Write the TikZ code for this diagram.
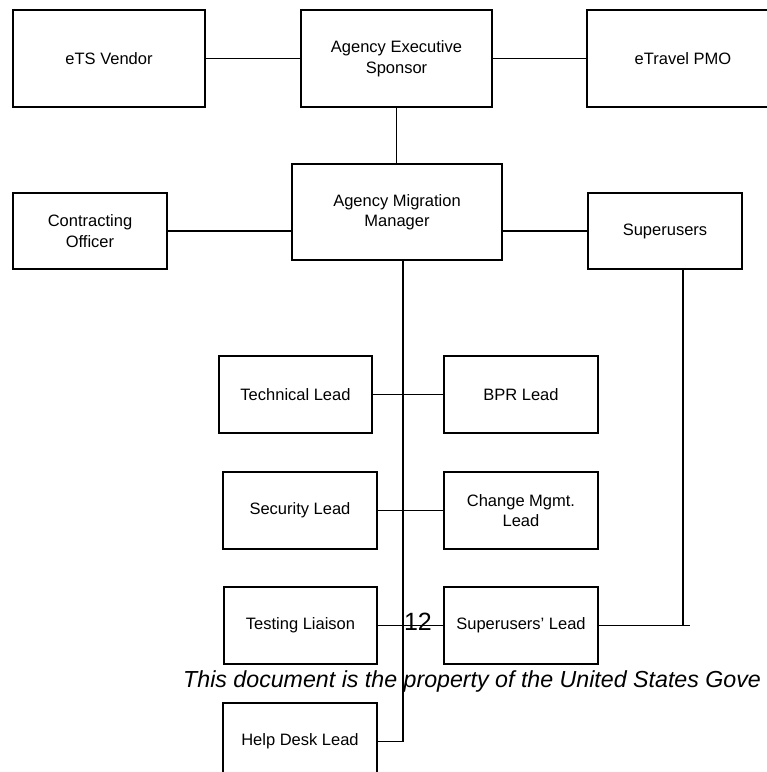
\documentclass[tikz,border=0pt]{standalone}
\usepackage{fontspec}
\setmainfont{Liberation Sans}
\usetikzlibrary{calc}
\tikzset{
  orgbox/.style={draw=black, line width=1.5pt, fill=white, inner sep=0pt,
    align=center, font=\fontsize{16.5}{20.5}\selectfont},
  link/.style={draw=black, line width=1.4pt},
}
\begin{document}
\begin{tikzpicture}[x=1pt, y=-1pt]
  \clip (0,0) rectangle (767,772);
  \fill[white] (0,0) rectangle (767,772);

  % top row
  \node[orgbox, minimum width=192pt, minimum height=97pt] (vendor) at (109,58.5) {eTS Vendor};
  \node[orgbox, minimum width=191pt, minimum height=97pt] (exec) at (396.5,58.5) {Agency Executive\\Sponsor};
  \node[orgbox, minimum width=192pt, minimum height=97pt] (pmo) at (683,58.5) {eTravel PMO};

  % second row
  \node[orgbox, minimum width=154pt, minimum height=76pt] (contract) at (90,231) {Contracting\\Officer};
  \node[orgbox, minimum width=210pt, minimum height=96pt] (migr) at (397,212) {Agency Migration\\Manager};
  \node[orgbox, minimum width=154pt, minimum height=76pt] (superu) at (665,231) {Superusers};

  % leads
  \node[orgbox, minimum width=153pt, minimum height=77pt] (tech) at (295.5,394.5) {Technical Lead};
  \node[orgbox, minimum width=154pt, minimum height=77pt] (bpr) at (521,394.5) {BPR Lead};
  \node[orgbox, minimum width=154pt, minimum height=77pt] (secur) at (300,510.5) {Security Lead};
  \node[orgbox, minimum width=154pt, minimum height=77pt] (change) at (521,510.5) {Change Mgmt.\\Lead};
  \node[orgbox, minimum width=153pt, minimum height=77pt] (testing) at (300.5,625.5) {Testing Liaison};
  \node[orgbox, minimum width=154pt, minimum height=77pt] (sulead) at (521,625.5) {Superusers’ Lead};
  \node[orgbox, minimum width=154pt, minimum height=77pt] (helpdesk) at (300,741.5) {Help Desk Lead};

  % connector anchor points
  \coordinate (spine) at ($(migr.south)+(6,0)$);
  \coordinate (sudrop) at ($(superu.south)+(18,0)$);
  \coordinate (suend) at ($(sulead.east)+(91,0)$);

  % connectors
  \draw[link] (vendor.east) -- (exec.west);
  \draw[link] (exec.east) -- (pmo.west);
  \draw[link] (exec.south) -- (exec.south |- migr.north);
  \draw[link] (contract.east) -- (contract.east -| migr.west);
  \draw[link] (superu.west) -- (superu.west -| migr.east);
  \draw[link] (spine) |- (helpdesk.east);
  \draw[link] (tech.east) -- (bpr.west);
  \draw[link] (secur.east) -- (change.west);
  \draw[link] (testing.east) -- (sulead.west);
  \draw[link] (sulead.east) -- (suend);
  \draw[link] (sudrop) -- (sudrop |- suend);

  % page number and footer text
  \node[font=\fontsize{25}{25}\selectfont, inner sep=0pt] (pagenum) at (418,622) {12};
  \node[font=\fontsize{23.2}{23.2}\selectfont\itshape, anchor=base west, inner sep=0pt] (footer) at (183,687)
    {This document is the property of the United States Gove};
\end{tikzpicture}
\end{document}
